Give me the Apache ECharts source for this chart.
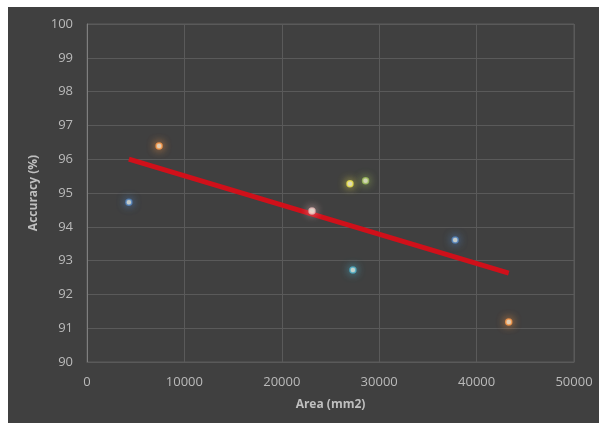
<!DOCTYPE html>
<html>
<head>
<meta charset="utf-8">
<script src="https://cdn.jsdelivr.net/npm/echarts@6/dist/echarts.min.js"></script>
<style>
html,body{margin:0;padding:0;background:#ffffff;width:599px;height:423px;overflow:hidden;}
#chart{position:absolute;left:8px;top:7px;width:591px;height:416px;}
</style>
</head>
<body>
<div id="chart"></div>
<script>
// Data
var areaValues = [4300, 7400, 23100, 27000, 28600, 27300, 37800, 43300];
var accuracyValues = [94.73, 96.39, 94.47, 95.27, 95.36, 92.72, 93.61, 91.18];
var pointColors = ['#4f81bd', '#f79646', '#e6b9b8', '#e8e04a', '#9bbb59', '#4bacc6', '#4f81bd', '#f79646'];
var trendArea = [4300, 43300];
var trendAccuracy = [96.0, 92.63];
var xTicks = [0, 10000, 20000, 30000, 40000, 50000];
var yTicks = [90, 91, 92, 93, 94, 95, 96, 97, 98, 99, 100];

var chart = echarts.init(document.getElementById('chart'), null, {renderer: 'canvas'});

var scatterData = areaValues.map(function (a, i) {
  return {
    value: [a, accuracyValues[i]],
    itemStyle: {
      color: '#fffbe8',
      borderColor: pointColors[i],
      borderWidth: 1.5,
      shadowBlur: 8,
      shadowColor: pointColors[i]
    }
  };
});
var trendData = trendArea.map(function (a, i) { return [a, trendAccuracy[i]]; });

var labelStyle = {color: '#bababa', fontSize: 13, fontFamily: 'Open Sans, Noto Sans, sans-serif'};

chart.setOption({
  backgroundColor: '#404040',
  animation: false,
  grid: {left: 79, top: 17, right: 25, bottom: 61, show: true, borderColor: '#5a5a5a', borderWidth: 1},
  xAxis: {
    type: 'value',
    min: xTicks[0], max: xTicks[xTicks.length - 1], interval: 10000,
    name: 'Area (mm2)', nameLocation: 'middle', nameGap: 37,
    nameTextStyle: {color: '#bfbfbf', fontSize: 12, fontWeight: 'bold', fontFamily: 'Open Sans, Noto Sans, sans-serif'},
    axisLine: {show: true, lineStyle: {color: '#5a5a5a'}},
    axisTick: {show: false},
    axisLabel: Object.assign({margin: 14, formatter: function (v) { return String(v); }}, labelStyle),
    splitLine: {show: true, lineStyle: {color: '#5a5a5a', width: 1}}
  },
  yAxis: {
    type: 'value',
    min: yTicks[0], max: yTicks[yTicks.length - 1], interval: 1,
    name: 'Accuracy (%)', nameLocation: 'middle', nameGap: 44, nameRotate: 90,
    nameTextStyle: {color: '#bfbfbf', fontSize: 12, fontWeight: 'bold', fontFamily: 'Open Sans, Noto Sans, sans-serif'},
    axisLine: {show: true, lineStyle: {color: '#7f7f7f'}},
    axisTick: {show: false},
    axisLabel: Object.assign({margin: 14, formatter: function (v) { return String(v); }}, labelStyle),
    splitLine: {show: true, lineStyle: {color: '#5a5a5a', width: 1}}
  },
  series: [
    {
      type: 'line',
      data: trendData,
      symbol: 'none',
      lineStyle: {color: '#d0101a', width: 5},
      z: 2
    },
    {
      type: 'scatter',
      data: scatterData,
      symbolSize: 6,
      z: 3
    }
  ]
});
</script>
</body>
</html>
